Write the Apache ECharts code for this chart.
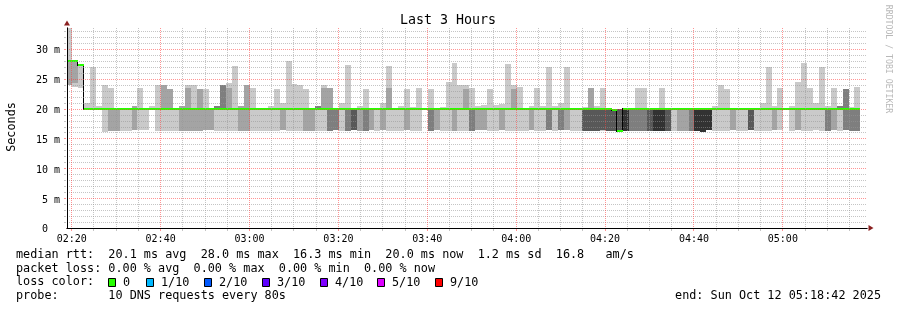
<!DOCTYPE html>
<html><head><meta charset="utf-8">
<script src="https://cdn.jsdelivr.net/npm/echarts@6/dist/echarts.min.js"></script>
<style>html,body{margin:0;padding:0;background:#fff}#c{width:897px;height:310px}</style>
</head><body><div id="c"></div>
<script>
// ---- data (times in seconds since midnight) ----
const stepSeconds = 80;
const firstStepStart = 8327;          // 02:18:47
const axisStart = 8336;               // 02:18:56
const axisEnd = 19136;                // 05:18:56
const majorTimes = [8400, 9600, 10800, 12000, 13200, 14400, 15600, 16800, 18000];   // 02:20 .. 05:00
const minorTimeStep = 300;            // 5 min minor grid
const minorTimeEnd = 18900;           // 05:15
const majorValues = [5, 10, 15, 20, 25, 30];
const minorValueMax = 33;
const yTickLabels = ['0  ', '5 m', '10 m', '15 m', '20 m', '25 m', '30 m'];

// 10 sorted ping RTTs (ms) per 80 s step
const pingsHour1 = [
 [24,24,28,28,28,28,28,28,28,34.5],
 [23.6,24.3,28,28,28,28,28,28,28,28],
 [23.5,27.3,27.3,27.3,27.3,27.3,27.3,27.3,27.3,27.3],
 [20,20,20,20,20,20,20,20,20,20.9],
 [20,20,20,20,20,20,20,20,20,26.9],
 [20,20,20,20,20,20,20,20,20,20.5],
 [16,20,20,20,20,20,20,20,20,24],
 [16.3,16.3,20,20,20,20,20,20,20,23.5],
 [16.3,16.3,20,20,20,20,20,20,20,20],
 [16.3,20,20,20,20,20,20,20,20,20],
 [16.3,20,20,20,20,20,20,20,20,20],
 [16.4,16.4,20,20,20,20,20,20,20.4,20.4],
 [16.4,20,20,20,20,20,20,20,20,23.4],
 [16.4,20,20,20,20,20,20,20,20,20],
 [20,20,20,20,20,20,20,20,20,20.5],
 [16.3,20,20,20,20,20,20,20,20,24],
 [16.3,20,20,20,20,20,20,20,24,24],
 [16.3,20,20,20,20,20,20,20,23.3,23.3],
 [16.3,20,20,20,20,20,20,20,20,20],
 [16.3,16.3,20,20,20,20,20,20,20.4,20.4],
 [16.3,16.3,20,20,20,20,20,20,23.5,24],
 [16.3,16.3,20,20,20,20,20,20,20,24],
 [16.3,16.3,20,20,20,20,20,20,23.3,23.3],
 [16.4,16.4,20,20,20,20,20,20,20,23.3],
 [16.4,16.4,20,20,20,20,20,20,20,20],
 [16.3,20,20,20,20,20,20,20.4,20.4,20.4],
 [16.3,20,20,20,20,20,20,24,24,24],
 [16.3,20,20,20,20,20,20,20,23.5,24.3],
 [16.3,20,20,20,20,20,20,20,20,27.2],
 [16.3,16.3,20,20,20,20,20,20,20.4,20.4],
 [16.3,16.3,20,20,20,20,20,20,24,24],
 [16.3,20,20,20,20,20,20,20,20,23.5],
 [16.3,20,20,20,20,20,20,20,20,20],
 [16.3,20,20,20,20,20,20,20,20,20],
 [16.3,20,20,20,20,20,20,20,20,20.4],
 [16.3,20,20,20,20,20,20,20,20,23.3],
 [16.4,16.4,20,20,20,20,20,20,20,20.9],
 [16.3,20,20,20,20,20,20,20,20,27.9],
 [16.3,20,20,20,20,20,20,20,20,24.1],
 [16.3,20,20,20,20,20,20,20,20,23.9],
 [16.3,16.3,20,20,20,20,20,20,20,23.3],
 [16.3,16.3,20,20,20,20,20,20,20,20],
 [16.3,20,20,20,20,20,20,20.4,20.4,20.4],
 [16.3,20,20,20,20,20,20,20,23.5,24],
 [16.3,16.3,16.3,20,20,20,20,20,23.5,23.5]
];
const pingsHour2 = [
 [16.4,16.4,16.4,20,20,20,20,20,20,20],
 [16.3,20,20,20,20,20,20,20,20,20.9],
 [16.3,16.3,16.3,20,20,20,20,20,20,27.3],
 [16.4,16.4,16.4,16.4,20,20,20,20,20,20],
 [16.3,16.3,20,20,20,20,20,20,20,20.4],
 [16.3,16.3,16.3,20,20,20,20,20,20,23.3],
 [16.4,16.4,20,20,20,20,20,20,20,20],
 [16.3,20,20,20,20,20,20,20,20,20],
 [16.4,16.4,20,20,20,20,20,20,20,20.9],
 [16.3,20,20,20,20,20,20,20,23.5,27.2],
 [16.3,20,20,20,20,20,20,20,20,20],
 [16.3,20,20,20,20,20,20,20,20,20.4],
 [16.4,16.4,20,20,20,20,20,20,20,23.3],
 [16.3,20,20,20,20,20,20,20,20,20.3],
 [16.3,20,20,20,20,20,20,20,20,23.5],
 [20,20,20,20,20,20,20,20,20,20],
 [16.3,16.3,16.3,20,20,20,20,20,20,23.3],
 [16.4,16.4,20,20,20,20,20,20,20,20],
 [16.3,20,20,20,20,20,20,20,20,20.3],
 [16.3,20,20,20,20,20,20,20,20,24.5],
 [16.3,16.3,20,20,20,20,20,20,20,27.7],
 [16.3,20,20,20,20,20,20,20,20,24],
 [16.3,20,20,20,20,20,20,20,23.3,24],
 [16.3,16.3,16.3,20,20,20,20,20,20,23.5],
 [16.4,16.4,20,20,20,20,20,20,20,20.5],
 [16.4,16.4,20,20,20,20,20,20,20,20.6],
 [16.3,20,20,20,20,20,20,20,20,23.3],
 [16.3,20,20,20,20,20,20,20,20,20.6],
 [16.4,16.4,20,20,20,20,20,20,20,20.8],
 [16.3,20,20,20,20,20,20,20,20,27.5],
 [16.3,20,20,20,20,20,20,20,23.3,24],
 [16.3,20,20,20,20,20,20,20,20,23.6],
 [16.3,20,20,20,20,20,20,20,20,20],
 [16.4,16.4,20,20,20,20,20,20,20,20.5],
 [16.3,20,20,20,20,20,20,20,20,23.5],
 [16.3,20,20,20,20,20,20,20,20,20.5],
 [16.4,16.4,16.4,20,20,20,20,20,20,26.9],
 [16.3,20,20,20,20,20,20,20,20,20.5],
 [16.4,16.4,16.4,20,20,20,20,20,20,20.9],
 [16.4,16.4,20,20,20,20,20,20,20,26.9],
 [16.3,20,20,20,20,20,20,20,20,20],
 [16.3,20,20,20,20,20,20,20,20,20],
 [16.3,16.3,16.3,16.3,20,20,20,20,20,20.3],
 [16.3,16.3,16.3,16.3,20,20,20,20,23.5,23.5],
 [16.3,16.3,16.3,16.3,20,20,20,20,20,20.5]
];
const pingsHour3 = [
 [16.3,16.4,16.4,16.4,20,20,20,20,20,23.5],
 [16.3,16.3,16.3,16.3,20,20,20,20,20,20],
 [16.3,16.3,16.3,16.3,19.7,19.7,19.7,19.7,19.7,19.7],
 [16.3,16.3,16.3,16.3,16.3,16.3,19.9,19.9,19.9,19.9],
 [16.3,16.3,16.3,16.3,16.3,20,20,20,20,20],
 [16.3,16.3,16.3,20,20,20,20,20,20,20],
 [16.3,16.3,16.3,20,20,20,20,20,20,23.5],
 [16.3,16.3,16.3,20,20,20,20,20,20,23.5],
 [16.3,16.3,16.3,16.3,20,20,20,20,20,20],
 [16.3,16.3,16.3,16.3,16.3,20,20,20,20,20],
 [16.3,16.3,16.3,16.3,16.3,20,20,20,20,23.5],
 [16.3,16.3,16.3,16.3,20,20,20,20,20,20],
 [16.3,20,20,20,20,20,20,20,20,20],
 [16.3,16.3,20,20,20,20,20,20,20,20],
 [16.3,16.3,20,20,20,20,20,20,20,20],
 [16.3,16.3,16.3,20,20,20,20,20,20,20],
 [16.3,16.3,16.3,16.3,16.3,20,20,20,20,20],
 [16,16,16,16,16,20,20,20,20,20],
 [16.4,16.4,16.4,16.4,16.4,20,20,20,20,20],
 [16.3,20,20,20,20,20,20,20,20,20.5],
 [16.3,20,20,20,20,20,20,20,20,24],
 [16.3,20,20,20,20,20,20,20,20,23.3],
 [16.4,16.4,20,20,20,20,20,20,20,20],
 [16.3,20,20,20,20,20,20,20,20,20],
 [16.3,19.7,19.7,19.7,20,20,20,20,20,20],
 [16.4,16.4,16.4,16.4,20,20,20,20,20,20],
 [16.3,20,20,20,20,20,20,20,20,20],
 [16.3,20,20,20,20,20,20,20,20,20.9],
 [16.3,20,20,20,20,20,20,20,20,26.9],
 [16.4,16.4,20,20,20,20,20,20,20,20.5],
 [16.4,20,20,20,20,20,20,20,20,23.5],
 [20,20,20,20,20,20,20,20,20,20],
 [16.3,20,20,20,20,20,20,20,20,20.5],
 [16.4,16.4,20,20,20,20,20,20,20,24.4],
 [16.3,20,20,20,20,20,20,20,20,27.7],
 [16.3,20,20,20,20,20,20,20,20,23.5],
 [16.4,20,20,20,20,20,20,20,20,20.9],
 [16.3,20,20,20,20,20,20,20,20,26.9],
 [16.3,16.3,16.3,20,20,20,20,20,20,20.5],
 [16.4,16.4,20,20,20,20,20,20,20,23.5],
 [16.3,20,20,20,20,20,20,20.5,20.5,20.5],
 [16.4,16.4,16.4,20,20,20,20,23.3,23.3,23.3],
 [16.3,16.3,16.3,20,20,20,20,20,20,20.3],
 [16.3,16.3,16.3,20,20,20,20,20,20,23.6]
];
// median RTT (ms) per step
const medianHour1 = [28,28,27.3,20,20,20,20,20,20,20,20,20,20,20,20,
 20,20,20,20,20,20,20,20,20,20,20,20,20,20,20,
 20,20,20,20,20,20,20,20,20,20,20,20,20,20,20];
const medianHour2 = [20,20,20,20,20,20,20,20,20,20,20,20,20,20,20,
 20,20,20,20,20,20,20,20,20,20,20,20,20,20,20,
 20,20,20,20,20,20,20,20,20,20,20,20,20,20,20];
const medianHour3 = [20,20,19.7,16.3,20,20,20,20,20,20,20,20,20,20,20,
 20,20,20,20,20,20,20,20,20,20,20,20,20,20,20,
 20,20,20,20,20,20,20,20,20,20,20,20,20,20];

const legendLines = [
 'median rtt:  20.1 ms avg  28.0 ms max  16.3 ms min  20.0 ms now  1.2 ms sd  16.8   am/s',
 'packet loss: 0.00 % avg  0.00 % max  0.00 % min  0.00 % now',
 'loss color:',
 'probe:       10 DNS requests every 80s'
];
const lossLabels = ['0', '1/10', '2/10', '3/10', '4/10', '5/10', '9/10'];
const lossColors = ['#26ff00', '#00b8ff', '#0059ff', '#5e00ff', '#7e00ff', '#dd00ff', '#ff0000'];
const endText = 'end: Sun Oct 12 05:18:42 2025';

// ---- layout / style ----
const MONO = 'DejaVu Sans Mono';
const plotLeft = 67, plotTop = 28, plotWidth = 800, plotHeight = 200, yMax = 33.5;
const plotBottom = plotTop + plotHeight;
const pxPerSec = plotWidth / (axisEnd - axisStart);
const pxPerMs = plotHeight / yMax;
const layerColors = ['#cacaca', '#a4a4a4', '#7e7e7e', '#585858', '#323232'];
const majorGrid = 'rgba(255,60,60,0.55)';
const minorGrid = 'rgba(150,150,150,0.55)';
const arrowColor = '#8b2020';

const pings = pingsHour1.concat(pingsHour2, pingsHour3);
const medians = medianHour1.concat(medianHour2, medianHour3);
const stepStarts = pings.map((_, k) => firstStepStart + k * stepSeconds);
const minorTimes = [];
for (let t = majorTimes[0]; t <= minorTimeEnd; t += minorTimeStep) if (majorTimes.indexOf(t) < 0) minorTimes.push(t);
const minorValues = [];
for (let v = 1; v <= minorValueMax; v++) if (majorValues.indexOf(v) < 0) minorValues.push(v);

function hhmm(v) {
  const h = Math.floor(v / 3600), m = Math.floor((v % 3600) / 60);
  return String(h).padStart(2, '0') + ':' + String(m).padStart(2, '0');
}

function rectRenderer(color) {
  return function (params, api) {
    const cs = params.coordSys;
    const a = api.coord([api.value(0), api.value(3)]);
    const b = api.coord([api.value(1), api.value(2)]);
    const x0 = Math.max(Math.round(a[0]), Math.round(cs.x));
    const x1 = Math.min(Math.round(b[0]), Math.round(cs.x + cs.width));
    const y0 = Math.max(Math.round(a[1]), Math.round(cs.y));
    const y1 = Math.round(b[1]);
    if (x1 <= x0 || y1 <= y0) return null;
    return { type: 'rect', shape: { x: x0, y: y0, width: x1 - x0, height: y1 - y0 }, style: { fill: color } };
  };
}

const series = [];
layerColors.forEach((color, i) => {
  const data = [];
  pings.forEach((row, k) => {
    const lo = row[i], hi = row[9 - i];
    if (hi > lo) data.push([stepStarts[k], stepStarts[k] + stepSeconds, lo, hi]);
  });
  series.push({
    type: 'custom', name: 'smoke' + (i + 1), xAxisIndex: 0, yAxisIndex: 0, z: 1 + i,
    encode: { x: [0, 1], y: [2, 3] }, renderItem: rectRenderer(color), data: data, silent: true
  });
});

// black connectors between median steps
const linkData = [];
medians.forEach((m, k) => { if (k > 0 && m !== medians[k - 1]) linkData.push([stepStarts[k], medians[k - 1], m]); });
series.push({
  type: 'custom', name: 'medianLink', xAxisIndex: 0, yAxisIndex: 0, z: 6, silent: true,
  encode: { x: 0, y: [1, 2] }, data: linkData,
  renderItem: function (params, api) {
    const a = api.coord([api.value(0), api.value(1)]);
    const b = api.coord([api.value(0), api.value(2)]);
    const x = Math.round(a[0]) - 1;
    const yA = Math.min(Math.round(a[1]), Math.round(b[1])) - 1;
    const yB = Math.max(Math.round(a[1]), Math.round(b[1])) + 1;
    return { type: 'rect', shape: { x: x, y: yA, width: 1, height: yB - yA }, style: { fill: '#000' } };
  }
});
// green median (0 loss) segments
series.push({
  type: 'custom', name: 'median', xAxisIndex: 0, yAxisIndex: 0, z: 7, silent: true,
  encode: { x: [0, 1], y: 2 },
  data: medians.map((m, k) => [stepStarts[k], stepStarts[k] + stepSeconds, m]),
  renderItem: function (params, api) {
    const cs = params.coordSys;
    const a = api.coord([api.value(0), api.value(2)]);
    const b = api.coord([api.value(1), api.value(2)]);
    const x0 = Math.max(Math.round(a[0]), Math.round(cs.x));
    const x1 = Math.round(b[0]);
    const yc = Math.round(a[1]);
    return { type: 'rect', shape: { x: x0, y: yc - 1, width: x1 - x0, height: 2 }, style: { fill: lossColors[0] } };
  }
});

// dotted grid lines (drawn above the smoke, like rrdtool), with a short tick outside the plot
function vLineRenderer(color) {
  return function (params, api) {
    const cs = params.coordSys;
    const p = api.coord([api.value(0), 0]);
    const x = Math.floor(p[0]) + 0.5;
    return { type: 'group', children: [
      { type: 'line', shape: { x1: x, y1: cs.y, x2: x, y2: cs.y + cs.height },
        style: { stroke: color, lineWidth: 1, lineDash: [1, 1] } },
      { type: 'line', shape: { x1: x, y1: cs.y + cs.height + 1, x2: x, y2: cs.y + cs.height + 3 },
        style: { stroke: color, lineWidth: 1 } }
    ] };
  };
}
function hLineRenderer(color) {
  return function (params, api) {
    const cs = params.coordSys;
    const p = api.coord([axisStart, api.value(0)]);
    const y = Math.round(p[1]) + 0.5;
    return { type: 'group', children: [
      { type: 'line', shape: { x1: cs.x, y1: y, x2: cs.x + cs.width, y2: y },
        style: { stroke: color, lineWidth: 1, lineDash: [1, 1] } },
      { type: 'line', shape: { x1: cs.x - 3, y1: y, x2: cs.x - 1, y2: y },
        style: { stroke: color, lineWidth: 1 } }
    ] };
  };
}
[[minorTimes, minorGrid, 8, vLineRenderer], [majorTimes, majorGrid, 9, vLineRenderer],
 [minorValues, minorGrid, 8, hLineRenderer], [majorValues, majorGrid, 9, hLineRenderer]].forEach(([vals, color, z, fn], i) => {
  series.push({
    type: 'custom', name: 'grid' + i, xAxisIndex: 0, yAxisIndex: 0, z: z, silent: true, clip: false,
    encode: fn === vLineRenderer ? { x: 0 } : { y: 0 },
    data: vals.map(v => [v]), renderItem: fn(color)
  });
});

const off = { show: false };
const xPos = v => plotLeft + (v - axisStart) * pxPerSec;
const yPos = v => plotBottom - v * pxPerMs;
const labelFont = { fontFamily: MONO, fontSize: 10, color: '#000' };
const yLabelShift = 1.8;

const option = {
  animation: false,
  backgroundColor: '#fff',
  textStyle: { fontFamily: MONO },
  grid: [
    // 0: data
    { left: plotLeft, top: plotTop, width: plotWidth, height: plotHeight },
    // 1: axis arrows
    { left: plotLeft, top: plotTop, width: plotWidth, height: plotHeight },
    // 2: time labels (02:20 .. 05:00)
    { left: xPos(majorTimes[0]), top: plotTop, width: xPos(majorTimes[majorTimes.length - 1]) - xPos(majorTimes[0]), height: plotHeight },
    // 3: value labels (0 .. 30)
    { left: plotLeft, top: yPos(30) + yLabelShift, width: plotWidth, height: 30 * pxPerMs }
  ],
  xAxis: [
    { gridIndex: 0, type: 'value', min: axisStart, max: axisEnd, z: 12,
      axisLine: { show: true, lineStyle: { color: '#000', width: 1 } },
      axisTick: off, axisLabel: off, splitLine: off },
    { gridIndex: 1, type: 'value', min: axisStart, max: axisEnd, z: 11,
      axisLine: { show: true, symbol: ['none', 'triangle'], symbolSize: [6, 5], symbolOffset: [0, 4],
        lineStyle: { color: arrowColor, width: 1 } },
      axisTick: off, axisLabel: off, splitLine: off },
    { gridIndex: 2, type: 'value', min: majorTimes[0], max: majorTimes[majorTimes.length - 1], interval: 1200, z: 9,
      axisLine: off, axisTick: off, splitLine: off,
      axisLabel: Object.assign({ show: true, margin: 6, formatter: v => hhmm(v) }, labelFont) },
    { gridIndex: 3, type: 'value', min: axisStart, max: axisEnd, show: false }
  ],
  yAxis: [
    { gridIndex: 0, type: 'value', min: 0, max: yMax, z: 12,
      axisLine: { show: true, lineStyle: { color: '#000', width: 1 } },
      axisTick: off, axisLabel: off, splitLine: off },
    { gridIndex: 1, type: 'value', min: 0, max: yMax, z: 11,
      axisLine: { show: true, symbol: ['none', 'triangle'], symbolSize: [6, 5], symbolOffset: [0, 5],
        lineStyle: { color: arrowColor, width: 1 } },
      axisTick: off, axisLabel: off, splitLine: off },
    { gridIndex: 2, type: 'value', min: 0, max: 1, show: false },
    { gridIndex: 3, type: 'value', min: 0, max: 30, interval: 5, z: 9,
      axisLine: off, axisTick: off, splitLine: off,
      axisLabel: Object.assign({ show: true, margin: 7, formatter: v => yTickLabels[v / 5] }, labelFont) }
  ],
  series: series,
  graphic: [].concat(
    [{ type: 'text', x: 448, y: 21, style: { text: 'Last 3 Hours', fontFamily: MONO, fontSize: 13.3, fill: '#000', align: 'center', verticalAlign: 'middle' } },
     { type: 'text', x: 11.5, y: 127, rotation: Math.PI / 2, style: { text: 'Seconds', fontFamily: MONO, fontSize: 11.8, fill: '#000', align: 'center', verticalAlign: 'middle' } },
     { type: 'text', x: 888, y: 59, rotation: -Math.PI / 2, style: { text: 'RRDTOOL / TOBI OETIKER', fontFamily: MONO, fontSize: 8.2, fill: '#b8b8b8', align: 'center', verticalAlign: 'middle' } },
     { type: 'text', x: 881, y: 295.8, style: { text: endText, fontFamily: MONO, fontSize: 11.8, fill: '#000', align: 'right', verticalAlign: 'middle' } }],
    legendLines.map((t, i) => ({ type: 'text', x: 16, y: 254.8 + i * 13.7,
      style: { text: t, fontFamily: MONO, fontSize: 11.8, fill: '#000', align: 'left', verticalAlign: 'middle' } })),
    lossLabels.map((t, i) => {
      const bx = [108, 146, 204, 262, 320, 377, 435][i];
      return { type: 'group', children: [
        { type: 'rect', shape: { x: bx + 0.5, y: 278.5, width: 7, height: 8 }, style: { fill: lossColors[i], stroke: '#000', lineWidth: 1 } },
        { type: 'text', x: bx + 15, y: 282.5, style: { text: t, fontFamily: MONO, fontSize: 11.8, fill: '#000', align: 'left', verticalAlign: 'middle' } }
      ] };
    })
  )
};

const chart = echarts.init(document.getElementById('c'), null, { renderer: 'canvas', width: 897, height: 310 });
chart.setOption(option);
</script>
</body></html>
